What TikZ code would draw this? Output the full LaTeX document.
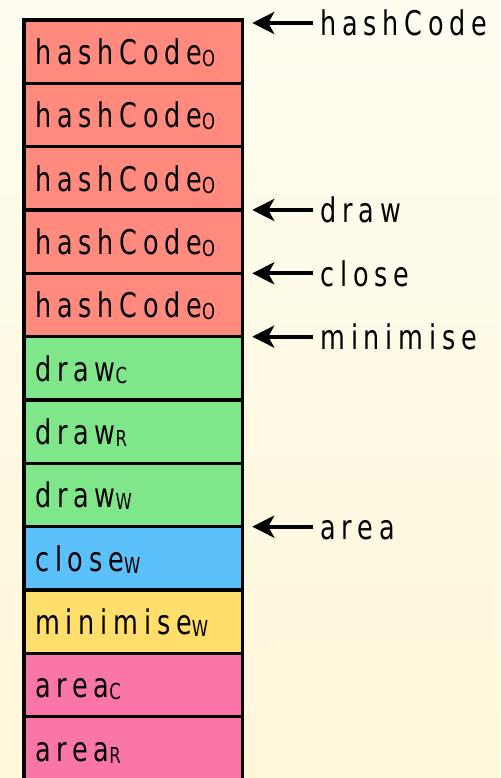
\documentclass[tikz,border=0pt]{standalone}
\usepackage{fontspec}
\newfontfamily\labelfont[FakeStretch=0.75,LetterSpace=17]{DejaVu Sans}
\usetikzlibrary{positioning,arrows.meta}

\definecolor{bgtop}{HTML}{FEFDF0}
\definecolor{bgbot}{HTML}{FFF7DA}
\definecolor{objred}{HTML}{FF8A7D}
\definecolor{drawgreen}{HTML}{80E68A}
\definecolor{closeblue}{HTML}{5CC0FA}
\definecolor{minyellow}{HTML}{FFDE6C}
\definecolor{areapink}{HTML}{FA76A8}

% class subscript
\newcommand{\cls}[1]{\raisebox{-2pt}{\fontsize{22pt}{22pt}\selectfont #1}}

\begin{document}
\begin{tikzpicture}
	[x=1pt,y=1pt,
	font=\labelfont\fontsize{34pt}{34pt}\selectfont,
	slot/.style={draw=black,line width=3.5pt,outer sep=0pt,
		minimum width=218.5pt,minimum height=63.33pt,
		text width=195.5pt,inner xsep=11.5pt,inner ysep=0pt,align=left,
		text height=26pt,text depth=0pt},
	lbl/.style={anchor=west,inner xsep=7pt,inner ysep=0pt,
		text height=26pt,text depth=0pt},
	ptr/.style={-{Stealth[length=22pt,width=22pt,inset=6pt]},line width=4pt,shorten >=10pt}]

	% Background
	\useasboundingbox (0,0) rectangle (500,-778);
	\shade[top color=bgtop,bottom color=bgbot] (0,0) rectangle (500,-778);

	% Draw the table slots
	\foreach \i/\c/\t in {1/objred/{hashCode\cls{O}},
		2/objred/{hashCode\cls{O}},
		3/objred/{hashCode\cls{O}},
		4/objred/{hashCode\cls{O}},
		5/objred/{hashCode\cls{O}},
		6/drawgreen/{draw\cls{C}},
		7/drawgreen/{draw\cls{R}},
		8/drawgreen/{draw\cls{W}},
		9/closeblue/{close\cls{W}},
		10/minyellow/{minimise\cls{W}},
		11/areapink/{area\cls{C}},
		12/areapink/{area\cls{R}}}
	{
		\node[slot,fill=\c,anchor=north west] (r\i) at (23.75,{-20-(\i-1)*63.33}) {\t};
	}

	% Method entry points
	\node[lbl] (lblHash) at ([xshift=71pt,yshift=-3pt]r1.north east) {hashCode};
	\node[lbl] (lblDraw) at ([xshift=71pt]r3.south east) {draw};
	\node[lbl] (lblClose) at ([xshift=71pt]r4.south east) {close};
	\node[lbl] (lblMin) at ([xshift=71pt]r5.south east) {minimise};
	\node[lbl] (lblArea) at ([xshift=71pt]r8.south east) {area};

	\draw[ptr] (lblHash.west) -- (lblHash.west -| r1.east);
	\draw[ptr] (lblDraw.west) -- (r3.south east);
	\draw[ptr] (lblClose.west) -- (r4.south east);
	\draw[ptr] (lblMin.west) -- (r5.south east);
	\draw[ptr] (lblArea.west) -- (r8.south east);

\end{tikzpicture}
\end{document}
